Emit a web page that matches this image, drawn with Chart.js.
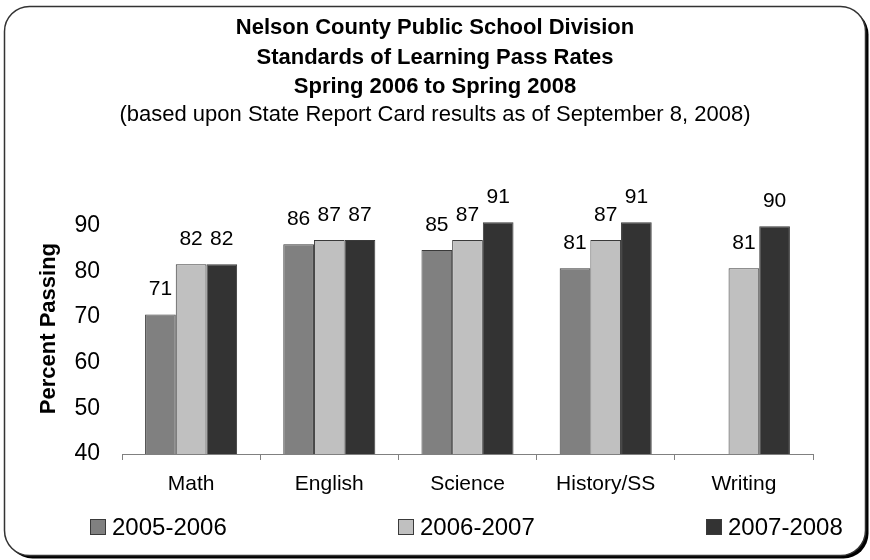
<!DOCTYPE html>
<html><head><meta charset="utf-8">
<script src="https://cdn.jsdelivr.net/npm/chart.js@4.4.0/dist/chart.umd.min.js"></script>
<style>html,body{margin:0;padding:0;background:#fff}#wrap{width:870px;height:560px}</style>
</head><body><div id="wrap"><canvas id="c" width="870" height="560"></canvas></div>
<script>
const categories = ['Math', 'English', 'Science', 'History/SS', 'Writing'];
const seriesNames = ['2005-2006', '2006-2007', '2007-2008'];
const values0506 = [70.6, 86.0, 84.7, 80.7, null];
const values0607 = [81.6, 86.9, 86.9, 86.9, 80.7];
const values0708 = [81.6, 86.9, 90.8, 90.8, 89.9];
const yTickValues = [40, 50, 60, 70, 80, 90];
const titleLines = ['Nelson County Public School Division', 'Standards of Learning Pass Rates', 'Spring 2006 to Spring 2008'];
const subtitleText = '(based upon State Report Card results as of September 8, 2008)';
const yAxisTitle = 'Percent Passing';

const FONT = "'Liberation Sans', Arial, sans-serif";
const colors = ['#808080', '#c0c0c0', '#333333'];
const edge = '#3a3a3a';

function rr(ctx, x, y, w, h, r) {
  ctx.beginPath();
  ctx.moveTo(x + r, y);
  ctx.lineTo(x + w - r, y);
  ctx.arcTo(x + w, y, x + w, y + r, r);
  ctx.lineTo(x + w, y + h - r);
  ctx.arcTo(x + w, y + h, x + w - r, y + h, r);
  ctx.lineTo(x + r, y + h);
  ctx.arcTo(x, y + h, x, y + h - r, r);
  ctx.lineTo(x, y + r);
  ctx.arcTo(x, y, x + r, y, r);
  ctx.closePath();
}

const framePlugin = {
  id: 'frame',
  beforeDraw(chart) {
    const ctx = chart.ctx;
    ctx.save();
    ctx.fillStyle = '#fff';
    ctx.fillRect(0, 0, chart.width, chart.height);
    rr(ctx, 7.5, 9.5, 861, 549, 25);
    ctx.fillStyle = '#000';
    ctx.fill();
    rr(ctx, 4.5, 6.5, 861, 549, 25);
    ctx.fillStyle = '#fff';
    ctx.fill();
    ctx.lineWidth = 1.5;
    ctx.strokeStyle = '#333';
    ctx.stroke();
    ctx.restore();
  }
};

const valueLabelPlugin = {
  id: 'valueLabels',
  afterDatasetsDraw(chart) {
    const ctx = chart.ctx;
    ctx.save();
    ctx.font = '21px ' + FONT;
    ctx.fillStyle = '#000';
    ctx.textAlign = 'center';
    ctx.textBaseline = 'alphabetic';
    chart.data.datasets.forEach((ds, di) => {
      const meta = chart.getDatasetMeta(di);
      meta.data.forEach((bar, i) => {
        const v = ds.data[i];
        if (v === null || v === undefined) return;
        ctx.fillText(String(Math.round(v)), bar.x, bar.y - 19);
      });
    });
    ctx.restore();
  }
};

const legendPlugin = {
  id: 'customLegend',
  afterDraw(chart) {
    const ctx = chart.ctx;
    ctx.save();
    ctx.font = '24px ' + FONT;
    ctx.textBaseline = 'middle';
    ctx.textAlign = 'left';
    const cy = 527;
    chart.data.datasets.forEach((ds, i) => {
      const x = 90 + i * 308;
      ctx.fillStyle = ds.backgroundColor;
      ctx.fillRect(x + 0.5, cy - 7.5, 15, 15);
      ctx.strokeStyle = edge;
      ctx.lineWidth = 1;
      ctx.strokeRect(x + 0.5, cy - 7.5, 15, 15);
      ctx.fillStyle = '#000';
      ctx.fillText(ds.label, x + 22, cy + 1);
    });
    ctx.restore();
  }
};

const datasets = [values0506, values0607, values0708].map((vals, i) => ({
  label: seriesNames[i],
  data: vals,
  backgroundColor: colors[i],
  borderColor: edge,
  borderWidth: 1,
  categoryPercentage: 0.666,
  barPercentage: 1.0
}));

new Chart(document.getElementById('c'), {
  type: 'bar',
  data: { labels: categories, datasets },
  options: {
    responsive: false,
    animation: false,
    devicePixelRatio: 1,
    layout: { padding: { left: 10, right: 10, top: 10, bottom: 10 } },
    plugins: {
      legend: { display: false },
      tooltip: { enabled: false },
      title: {
        display: true,
        text: titleLines,
        color: '#000',
        font: { family: FONT, size: 22, weight: 'bold', lineHeight: 1.34 },
        padding: { top: 3.25, bottom: 0 }
      },
      subtitle: {
        display: true,
        text: subtitleText,
        color: '#000',
        font: { family: FONT, size: 22, weight: 'normal', lineHeight: 1.2 },
        padding: { top: 0, bottom: 75 }
      }
    },
    scales: {
      x: {
        grid: { display: true, drawOnChartArea: false, drawTicks: true, tickLength: 6, color: '#808080', offset: true },
        border: { display: true, color: '#808080', width: 1 },
        ticks: { color: '#000', font: { family: FONT, size: 21 }, padding: 11.4, maxRotation: 0 },
        afterFit(s) { s.height = 96; }
      },
      y: {
        min: 40,
        max: 95,
        grid: { display: false, drawTicks: false },
        border: { display: false },
        afterBuildTicks(s) { s.ticks = yTickValues.map(v => ({ value: v })); },
        ticks: { color: '#000', font: { family: FONT, size: 23 }, padding: 22 },
        title: {
          display: true,
          text: yAxisTitle,
          color: '#000',
          font: { family: FONT, size: 22, weight: 'bold', lineHeight: 1.2 },
          padding: { top: 25.8, bottom: 0 }
        },
        afterFit(s) { s.width = 112; }
      },
      yRight: {
        position: 'right',
        display: true,
        grid: { display: false, drawTicks: false },
        border: { display: false },
        ticks: { display: false },
        afterFit(s) { s.width = 47; }
      }
    }
  },
  plugins: [framePlugin, valueLabelPlugin, legendPlugin]
});
</script>
</body></html>
